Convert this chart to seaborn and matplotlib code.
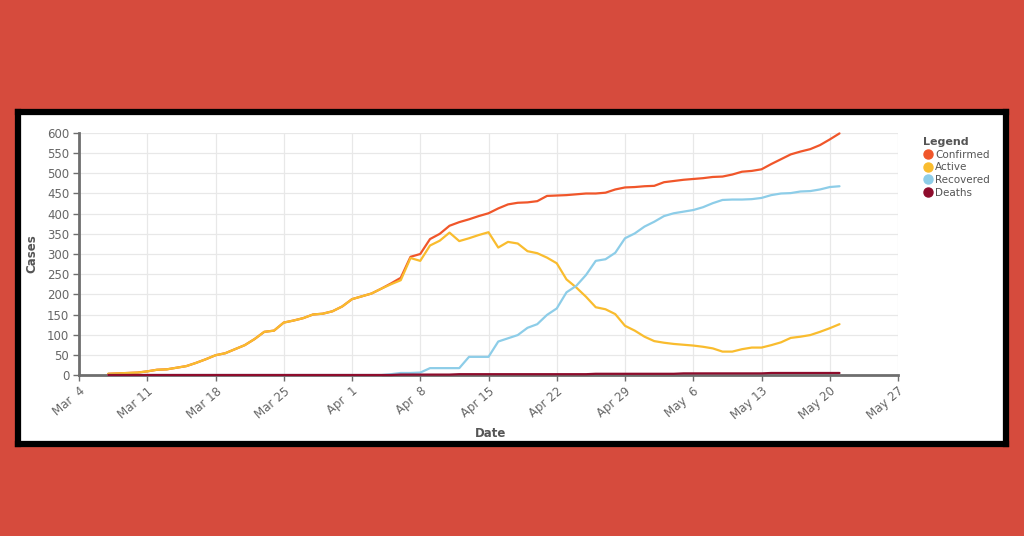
import numpy as np
import pandas as pd
import matplotlib
matplotlib.use("Agg")
import matplotlib.pyplot as plt
import matplotlib.dates as mdates
from matplotlib.patches import Rectangle
from matplotlib.lines import Line2D
import seaborn as sns

# ---------------- data ----------------
start_date = "2020-03-07"
confirmed = [3, 4, 5, 6, 9, 13, 14, 18, 22, 30, 39, 49, 54, 64, 74, 89, 107, 110, 130, 135,
             141, 150, 152, 158, 170, 188, 195, 202, 214, 227, 241, 293, 300, 337, 350, 370,
             379, 386, 394, 401, 413, 423, 427, 428, 431, 444, 445, 446, 448, 450, 450, 452,
             460, 465, 466, 468, 469, 478, 481, 484, 486, 488, 491, 492, 497, 504, 506, 510,
             523, 535, 547, 554, 560, 570, 584, 599]
active = [3, 4, 5, 6, 9, 13, 14, 18, 22, 30, 39, 49, 54, 64, 74, 89, 107, 110, 130, 135,
          141, 150, 152, 158, 170, 188, 195, 202, 214, 225, 235, 290, 283, 321, 333, 353,
          332, 339, 347, 354, 316, 330, 326, 307, 302, 291, 277, 237, 217, 194, 168, 163,
          151, 122, 110, 95, 84, 80, 77, 75, 73, 70, 66, 58, 58, 64, 68, 68,
          74, 81, 92, 95, 99, 107, 116, 126]
recovered = [0, 0, 0, 0, 0, 0, 0, 0, 0, 0, 0, 0, 0, 0, 0, 0, 0, 0, 0, 0,
             0, 0, 0, 0, 0, 0, 0, 0, 0, 2, 5, 5, 6, 17, 17, 17,
             17, 45, 45, 45, 83, 91, 99, 117, 126, 149, 165, 205, 221, 248, 283, 287,
             303, 339, 351, 368, 380, 394, 401, 405, 409, 416, 426, 434, 435, 435, 436, 439,
             446, 450, 451, 455, 456, 460, 466, 468]
deaths = [0, 0, 0, 0, 0, 0, 0, 0, 0, 0, 0, 0, 0, 0, 0, 0, 0, 0, 0, 0,
          0, 0, 0, 0, 0, 0, 0, 0, 0, 0, 1, 1, 1, 1, 1, 1,
          2, 2, 2, 2, 2, 2, 2, 2, 2, 2, 2, 2, 2, 2, 3, 3,
          3, 3, 3, 3, 3, 3, 3, 4, 4, 4, 4, 4, 4, 4, 4, 4,
          5, 5, 5, 5, 5, 5, 5, 5]
series_names = ["Confirmed", "Active", "Recovered", "Deaths"]
series_colors = ["#F0562A", "#F9BC2E", "#8DCDE8", "#8E0C2C"]
tick_dates = ["2020-03-04", "2020-03-11", "2020-03-18", "2020-03-25", "2020-04-01",
              "2020-04-08", "2020-04-15", "2020-04-22", "2020-04-29", "2020-05-06",
              "2020-05-13", "2020-05-20", "2020-05-27"]
tick_labels = ["Mar  4", "Mar 11", "Mar 18", "Mar 25", "Apr  1", "Apr  8", "Apr 15",
               "Apr 22", "Apr 29", "May  6", "May 13", "May 20", "May 27"]
y_ticks = [0, 50, 100, 150, 200, 250, 300, 350, 400, 450, 500, 550, 600]

dates = pd.date_range(start_date, periods=len(confirmed), freq="D")
df = pd.DataFrame({"Date": dates, "Confirmed": confirmed, "Active": active,
                   "Recovered": recovered, "Deaths": deaths})
long = df.melt(id_vars="Date", var_name="Series", value_name="Cases")

# ---------------- figure ----------------
sns.set_theme(style="white")
plt.rcParams["font.family"] = ["DejaVu Sans"]

W, H = 1024, 536
fig = plt.figure(figsize=(W / 100, H / 100), dpi=100)
fig.patch.set_facecolor("#D64B3D")

# white panel with black border (background axes)
px0, px1, py0, py1 = 18, 1006, 112, 444
bg = fig.add_axes([px0 / W, 1 - py1 / H, (px1 - px0) / W, (py1 - py0) / H], zorder=-5)
bg.set_facecolor("white")
bg.set_xticks([])
bg.set_yticks([])
for s in bg.spines.values():
    s.set_visible(True)
    s.set_color("black")
    s.set_linewidth(4.5)

ax = fig.add_axes([79 / W, 1 - 375 / H, (898 - 79) / W, (375 - 133) / H], zorder=1)
ax.set_facecolor("white")

palette = dict(zip(series_names, series_colors))
sns.lineplot(data=long, x="Date", y="Cases", hue="Series", hue_order=series_names,
             palette=palette, linewidth=1.6, ax=ax, legend=False)
for ln in ax.get_lines():
    ln.set_zorder(3)
    ln.set_clip_on(False)

ax.set_ylim(0, 600)
ax.set_xlim(pd.Timestamp(tick_dates[0]), pd.Timestamp(tick_dates[-1]))
ax.set_yticks(y_ticks)
ax.set_xticks([pd.Timestamp(t) for t in tick_dates])
ax.set_xticklabels(tick_labels, rotation=40, ha="right", rotation_mode="anchor")

ax.grid(True, color="#E8E8E8", linewidth=0.9)
ax.set_axisbelow(True)
for s in ["top", "right"]:
    ax.spines[s].set_visible(False)
for s in ["left", "bottom"]:
    ax.spines[s].set_color("#6E6E6E")
    ax.spines[s].set_linewidth(2)
    ax.spines[s].set_zorder(2.5)
ax.tick_params(axis="both", which="major", direction="out", length=4, width=1,
               color="#6E6E6E", labelsize=8.5, labelcolor="#666666", pad=3,
               bottom=True, left=True)

ax.set_xlabel("Date", fontsize=8.5, fontweight="bold", color="#555555", labelpad=0)
ax.xaxis.set_label_coords(0.502, -0.215)
ax.set_ylabel("Cases", fontsize=8.5, fontweight="bold", color="#555555")
ax.yaxis.set_label_coords(-0.05, 0.5)

handles = [Line2D([0], [0], marker="o", linestyle="", markersize=6.5,
                  markerfacecolor=c, markeredgecolor=c) for c in series_colors]
leg = ax.legend(handles, series_names, title="Legend", loc="upper left",
                bbox_to_anchor=(1.025, 1.0), frameon=False, fontsize=7.5,
                title_fontsize=8, handletextpad=0.2, labelspacing=0.25,
                borderaxespad=0, handlelength=1.0, alignment="left")
leg.get_title().set_fontweight("bold")
leg.get_title().set_color("#555555")
for t in leg.get_texts():
    t.set_color("#555555")

fig.savefig("out.png", dpi=100, facecolor=fig.get_facecolor())
